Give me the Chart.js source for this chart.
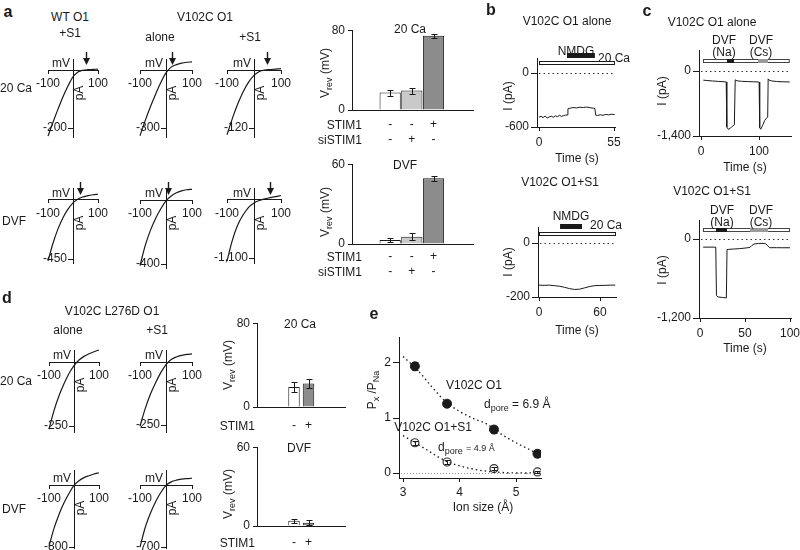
<!DOCTYPE html>
<html><head><meta charset="utf-8">
<script src="https://cdn.jsdelivr.net/npm/chart.js@4.4.0/dist/chart.umd.min.js"></script>
<style>
html,body{margin:0;padding:0;background:#fff;}
#fig{position:relative;width:800px;height:550px;overflow:hidden;font-family:'Liberation Sans',Arial,sans-serif;color:#1a1a1a;}
#fig canvas{position:absolute;}
.t{position:absolute;white-space:nowrap;font-size:12px;line-height:1;}
.t sub{font-size:9px;vertical-align:-3px;line-height:0;}
.t small{font-size:9px;}
.lbl{font-weight:bold;font-size:16px;}
</style></head><body><div id="fig"></div>
<script>
// ---------------- DATA ----------------
// I–V curves (voltage in mV, current in pA)
const ivVoltage = [-100, -80, -60, -40, -20, 0, 20, 40, 60, 80, 100];
const ivXTicks = [-100, 100];
// panel a, 20 Ca row
const aWT_S1_Ca        = [-228, -180, -135, -92, -55, -24, -7, -1, 1, 2, 3];
const aV102C_alone_Ca  = [-340, -262, -190, -125, -65, -15, 15, 28, 36, 40, 42];
const aV102C_S1_Ca     = [-134, -100, -70, -45, -25, -11, -3, 0, 1, 2, 3];
// panel a, DVF row
const aWT_S1_DVF       = [-465, -330, -220, -135, -70, -22, 8, 24, 34, 40, 44];
const aV102C_alone_DVF = [-410, -285, -190, -115, -55, -5, 25, 45, 57, 64, 67];
const aV102C_S1_DVF    = [-1160, -760, -470, -280, -140, -55, -10, 20, 45, 65, 85];
const aIvTicks  = [-200, -300, -120, -450, -400, -1100];
const aIvArrows = [52, 23, 48, 28, 8, 60];   // reversal potentials marked by arrows (mV)
// panel d
const dAlone_Ca  = [-262, -190, -132, -85, -45, -14, 8, 22, 32, 40, 47];
const dS1_Ca     = [-255, -185, -128, -82, -42, -10, 10, 20, 26, 30, 32];
const dAlone_DVF = [-790, -560, -380, -230, -110, -5, 55, 95, 120, 142, 158];
const dS1_DVF    = [-700, -480, -320, -190, -85, -5, 35, 55, 66, 72, 76];
const dIvTicks = [-250, -250, -800, -700];

// Bar charts: reversal potentials (mV)
const aBarPos = [1, 2, 3];
const aSTIM1   = ['-', '-', '+'];
const aSiSTIM1 = ['-', '+', '-'];
const aVrevCa     = [17.5, 19.5, 74.5];
const aVrevCaErr  = [3, 3, 2];
const aVrevDVF    = [3, 5.5, 49.5];
const aVrevDVFErr = [1.2, 2.5, 1.8];
const dBarPos = [1, 2];
const dSTIM1  = ['-', '+'];
const dVrevCa     = [19, 22.5];
const dVrevCaErr  = [4.5, 4];
const dVrevDVF    = [4, 2.5];
const dVrevDVFErr = [1.5, 2];
const vrevTicksCa = [0, 80];
const vrevTicksDVF = [0, 60];

// Current traces (time s, current pA)
const bAloneT = [0, 1.5, 3, 4.5, 6, 7.5, 9, 10.5, 12, 13.5, 15, 16.5, 18, 19.5, 20.6, 21.2, 23, 25, 27.5, 30, 32.5, 35, 37.5, 40, 41, 41.6, 43, 45, 47, 49, 51, 53, 55.5];
const bAloneI = [-490, -482, -495, -478, -500, -488, -480, -492, -476, -485, -470, -482, -474, -468, -466, -398, -390, -384, -388, -380, -384, -378, -386, -392, -396, -468, -472, -464, -470, -460, -466, -458, -462];
const bAloneBath = [0, 55.7], bAloneNMDG = [20.5, 41];
const bS1T = [0, 5, 10, 15, 20, 25, 30, 35, 40, 45, 50, 55, 60, 65, 70, 75];
const bS1I = [-156, -157, -156, -158, -160, -164, -169, -172, -171, -166, -161, -158, -157, -157, -156, -156];
const bS1Bath = [0, 75.7], bS1NMDG = [20.7, 42.3];
const cAloneT = [4, 10, 20, 30, 40, 43.5, 44.5, 47, 50, 53, 56.5, 57.5, 59, 62, 70, 80, 90, 99, 100.2, 101.2, 103, 106, 110, 113, 115, 115.8, 117.5, 122, 130, 140, 153];
const cAloneI = [-197, -205, -215, -224, -232, -236, -1210, -1254, -1240, -1200, -1170, -1160, -190, -212, -222, -228, -232, -236, -238, -1220, -1254, -1180, -1060, -1015, -990, -170, -198, -214, -226, -232, -236];
const cAloneBath = [3.4, 153], cAloneNa = [44.8, 56.9], cAloneCs = [98.3, 115.5];
const cS1T = [3.5, 10, 17.5, 18.3, 20, 25, 29.3, 30, 32, 38, 44, 50, 55.5, 57.5, 60, 65, 70, 73, 75.5, 77.5, 85, 92, 100];
const cS1I = [-124, -123, -124, -860, -880, -888, -895, -160, -157, -152, -146, -138, -128, -100, -76, -68, -66, -72, -105, -132, -132, -133, -133];
const cS1Bath = [3.3, 100], cS1Na = [17.8, 30], cS1Cs = [55.6, 75.6];
const bXTicksAlone = [0, 55], bYTicksAlone = [0, -600];
const bXTicksS1 = [0, 60], bYTicksS1 = [0, -200];
const cXTicksAlone = [0, 100], cYTicksAlone = [0, -1400];
const cXTicksS1 = [0, 50, 100], cYTicksS1 = [0, -1200];

// Panel e: permeability ratios vs ion size (Å)
const eIonSize = [3.21, 3.78, 4.61, 5.38];
const ePAlone = [1.94, 1.26, 0.79, 0.35];
const ePAloneErr = [0.07, 0.03, 0.07, 0.06];
const ePS1 = [0.55, 0.20, 0.08, 0.02];
const ePS1Err = [0.04, 0.03, 0.03, 0.02];
const eFitX = [3.0, 3.25, 3.5, 3.75, 4.0, 4.25, 4.5, 4.75, 5.0, 5.25, 5.44];
const eFitAlone = [2.12, 1.88, 1.58, 1.30, 1.12, 0.99, 0.88, 0.70, 0.55, 0.42, 0.32];
const eFitS1 = [0.68, 0.53, 0.37, 0.22, 0.13, 0.07, 0.03, 0.01, 0, 0, 0];
const eXTicks = [3, 4, 5], eYTicks = [0, 1, 2];

// ---------------- SETUP ----------------
const FONT = "'Liberation Sans', Arial, sans-serif";
const INK = '#1a1a1a';
Chart.defaults.font.family = FONT;
Chart.defaults.font.size = 12;
Chart.defaults.color = INK;
Chart.defaults.plugins.legend.display = false;
Chart.defaults.plugins.tooltip.enabled = false;
const common = {responsive: false, animation: false, devicePixelRatio: 1, events: []};
const fmt = v => Number(v).toLocaleString('en-US');

const deco = {
  id: 'deco',
  afterDatasetsDraw(chart, args, o) {
    const {ctx, chartArea: ca} = chart;
    const xs = chart.scales.x, ys = chart.scales.y;
    ctx.save();
    if (o.zero) {
      const py = Math.round(ys.getPixelForValue(0)) + 0.5;
      ctx.strokeStyle = o.zero.color; ctx.lineWidth = 1; ctx.setLineDash(o.zero.dash);
      ctx.beginPath(); ctx.moveTo(ca.left + 2, py); ctx.lineTo(ca.right, py); ctx.stroke();
      ctx.setLineDash([]);
    }
    if (o.stim) {
      const y0 = ys.getPixelForValue(0);
      o.stim.forEach(s => {
        const xa = xs.getPixelForValue(s.t[0]), xb = xs.getPixelForValue(s.t[1]);
        ctx.fillStyle = s.fill; ctx.fillRect(xa, y0 + s.off, xb - xa, s.h);
        if (s.stroke) { ctx.strokeStyle = s.stroke; ctx.lineWidth = 1; ctx.strokeRect(xa + 0.5, y0 + s.off + 0.5, xb - xa - 1, s.h - 1); }
      });
    }
    if (o.iv) {
      const x0 = xs.getPixelForValue(0), y0 = ys.getPixelForValue(0);
      ctx.fillStyle = INK; ctx.font = '12px ' + FONT;
      ctx.textAlign = 'right'; ctx.textBaseline = 'alphabetic';
      ctx.fillText('mV', x0 - 3, y0 - 3);
      ctx.save(); ctx.translate(x0 + 7, y0 + 23); ctx.rotate(-Math.PI / 2);
      ctx.textAlign = 'center'; ctx.textBaseline = 'middle'; ctx.fillText('pA', 0, 0); ctx.restore();
      if (o.arrow != null) {
        const ax = Math.round(xs.getPixelForValue(o.arrow)) + 0.5, tip = y0 - 5;
        ctx.strokeStyle = INK; ctx.lineWidth = 1.4;
        ctx.beginPath(); ctx.moveTo(ax, tip - 13); ctx.lineTo(ax, tip - 5); ctx.stroke();
        ctx.beginPath(); ctx.moveTo(ax - 3.5, tip - 7); ctx.lineTo(ax + 3.5, tip - 7); ctx.lineTo(ax, tip); ctx.closePath(); ctx.fill();
      }
    }
    ctx.restore();
  }
};
const errbars = {
  id: 'errbars',
  afterDatasetsDraw(chart, args, o) {
    if (!o.sets) return;
    const {ctx} = chart; const ys = chart.scales.y;
    ctx.save(); ctx.strokeStyle = INK; ctx.lineWidth = 1;
    o.sets.forEach(s => {
      const meta = chart.getDatasetMeta(s.ds);
      const vals = chart.data.datasets[s.ds].data;
      meta.data.forEach((el, i) => {
        const v = typeof vals[i] === 'object' ? vals[i].y : vals[i];
        const e = s.err[i];
        const px = Math.round(el.x) + 0.5;
        const yt = Math.round(ys.getPixelForValue(v + e)) + 0.5, yb = Math.round(ys.getPixelForValue(v - e)) + 0.5;
        ctx.beginPath(); ctx.moveTo(px, yt); ctx.lineTo(px, yb);
        ctx.moveTo(px - s.cap, yt); ctx.lineTo(px + s.cap, yt);
        ctx.moveTo(px - s.cap, yb); ctx.lineTo(px + s.cap, yb); ctx.stroke();
      });
    });
    ctx.restore();
  }
};
Chart.register(deco, errbars);

const FIG = document.getElementById('fig');
function addCanvas(l, t, w, h) {
  const c = document.createElement('canvas');
  c.width = Math.round(w); c.height = Math.round(h);
  c.style.left = Math.round(l) + 'px'; c.style.top = Math.round(t) + 'px';
  c.style.width = Math.round(w) + 'px'; c.style.height = Math.round(h) + 'px';
  FIG.appendChild(c); return c;
}
function txt(html, x, y, opt = {}) {
  const d = document.createElement('div');
  d.className = 't' + (opt.cls ? ' ' + opt.cls : '');
  d.innerHTML = html; d.style.left = x + 'px'; d.style.top = y + 'px';
  let tr = opt.align === 'right' ? 'translate(-100%,-50%)' : opt.align === 'left' ? 'translate(0,-50%)' : 'translate(-50%,-50%)';
  if (opt.rot) tr += ' rotate(' + opt.rot + 'deg)';
  d.style.transform = tr;
  if (opt.size) d.style.fontSize = opt.size + 'px';
  FIG.appendChild(d);
}

// ---------------- I–V chart ----------------
function ivChart(o) {
  const PL = 26, PR = 26, PT = 22, PB = 12;
  const cv = addCanvas(o.x0 - PL, o.top - PT, (o.x1 - o.x0) + PL + PR, (o.bot - o.top) + PT + PB);
  const upp = -o.tickVal / (o.tickPx - o.y0);
  const ymax = (o.y0 - o.top) * upp, ymin = -(o.bot - o.y0) * upp;
  new Chart(cv, {
    type: 'line',
    data: {datasets: [{data: ivVoltage.map((v, i) => ({x: v, y: o.I[i]})), borderColor: INK, borderWidth: 1.2,
      pointRadius: 0, cubicInterpolationMode: 'monotone', fill: false, clip: 6}]},
    options: Object.assign({}, common, {
      layout: {padding: {left: PL, right: PR, top: PT, bottom: PB}},
      plugins: {deco: {iv: true, arrow: o.arrow}},
      scales: {
        x: {type: 'linear', min: -100, max: 100, position: {y: 0},
          grid: {drawOnChartArea: false, tickLength: 3, color: INK}, border: {color: INK, width: 1},
          afterBuildTicks: s => { s.ticks = ivXTicks.map(v => ({value: v})); },
          ticks: {padding: 3, autoSkip: false, maxRotation: 0, callback: v => fmt(v)}},
        y: {type: 'linear', min: ymin, max: ymax, position: {x: 0},
          grid: {drawOnChartArea: false, tickLength: 5, color: INK}, border: {color: INK, width: 1},
          afterBuildTicks: s => { s.ticks = [{value: o.tickVal}]; },
          // labels of a crossing axis are anchored on the axis line: an en space keeps them clear of the tick
          ticks: {padding: 1, autoSkip: false, callback: v => fmt(v) + '\u2002'}}
      }
    })
  });
}
// ---------------- bar chart ----------------
function barChart(o) {
  const YW = 34, XH = 40, PT = 10, PR = 6;
  const cv = addCanvas(o.axisX - YW, o.topPx - PT, (o.xEnd - o.axisX) + YW + PR, (o.y0 - o.topPx) + PT + XH);
  const n = o.pos.length;
  const ppu = (o.cLast - o.cFirst) / (o.pos[n - 1] - o.pos[0]);
  const xmin = o.pos[0] - (o.cFirst - o.axisX) / ppu;
  const xmax = o.pos[n - 1] + (o.xEnd - o.cLast) / ppu;
  new Chart(cv, {
    type: 'bar',
    data: {datasets: [{data: o.pos.map((p, i) => ({x: p, y: o.vals[i]})), backgroundColor: o.colors,
      borderColor: INK, borderWidth: 1, barPercentage: o.barPct, categoryPercentage: 1}]},
    options: Object.assign({}, common, {
      layout: {padding: {left: 0, right: PR, top: PT, bottom: 0}},
      plugins: {errbars: {sets: [{ds: 0, err: o.err, cap: 3}]}},
      scales: {
        x: {type: 'linear', min: xmin, max: xmax, grid: {display: false, drawTicks: false}, border: {color: INK},
          afterBuildTicks: s => { s.ticks = o.pos.map(v => ({value: v})); },
          afterFit: s => { s.height = XH; },
          ticks: {autoSkip: false, maxRotation: 0, padding: o.tickPad, font: {size: 12, lineHeight: 1.25},
            callback: (v, i) => o.rows.map(r => r[i])}},
        y: {type: 'linear', min: 0, max: o.yticks[o.yticks.length - 1], grid: {drawOnChartArea: false, tickLength: 4, color: INK},
          border: {color: INK},
          afterBuildTicks: s => { s.ticks = o.yticks.map(v => ({value: v})); },
          afterFit: s => { s.width = YW; },
          ticks: {padding: 3}}
      }
    })
  });
}
// ---------------- trace chart ----------------
function traceChart(o) {
  const YW = 46, XH = 26, PT = 24, PR = 20;
  const cv = addCanvas(o.axisX - YW, o.topPx - PT, (o.xEnd - o.axisX) + YW + PR, (o.botPx - o.topPx) + PT + XH);
  const xppu = (o.xtp[1] - o.xtp[0]) / (o.xt[1] - o.xt[0]);
  const xmin = o.xt[0] - (o.xtp[0] - o.axisX) / xppu, xmax = o.xt[0] + (o.xEnd - o.xtp[0]) / xppu;
  const yupp = (o.yt[0] - o.yt[1]) / (o.ytp[1] - o.ytp[0]);
  const ymax = o.yt[0] + (o.ytp[0] - o.topPx) * yupp, ymin = o.yt[0] - (o.botPx - o.ytp[0]) * yupp;
  new Chart(cv, {
    type: 'line',
    data: {datasets: [{data: o.t.map((t, i) => ({x: t, y: o.I[i]})), borderColor: INK, borderWidth: 1,
      pointRadius: 0, tension: 0, fill: false}]},
    options: Object.assign({}, common, {
      layout: {padding: {left: 0, right: PR, top: PT, bottom: 0}},
      plugins: {deco: {zero: {color: '#333', dash: [1.5, 3]}, stim: o.stim}},
      scales: {
        x: {type: 'linear', min: xmin, max: xmax, grid: {drawOnChartArea: false, tickLength: 4, color: INK}, border: {color: INK},
          afterBuildTicks: s => { s.ticks = o.xticks.map(v => ({value: v})); },
          afterFit: s => { s.height = XH; },
          ticks: {autoSkip: false, maxRotation: 0, padding: 4, callback: v => fmt(v)}},
        y: {type: 'linear', min: ymin, max: ymax, grid: {drawOnChartArea: false, tickLength: 6, color: INK}, border: {color: INK},
          afterBuildTicks: s => { s.ticks = o.yticks.map(v => ({value: v})); },
          afterFit: s => { s.width = YW; },
          ticks: {autoSkip: false, padding: 2, callback: v => fmt(v)}}
      }
    })
  });
}

// ---------------- PANEL a ----------------
const aIV = [aWT_S1_Ca, aV102C_alone_Ca, aV102C_S1_Ca, aWT_S1_DVF, aV102C_alone_DVF, aV102C_S1_DVF];
const aIvBox = [
  {x0: 48, x1: 98, y0: 70, tickPx: 128, top: 59, bot: 137},
  {x0: 140, x1: 192, y0: 70, tickPx: 128, top: 59, bot: 137},
  {x0: 227, x1: 281, y0: 70, tickPx: 128, top: 59, bot: 137},
  {x0: 48, x1: 98, y0: 200, tickPx: 259, top: 188, bot: 263},
  {x0: 140, x1: 192, y0: 200, tickPx: 264, top: 188, bot: 268},
  {x0: 227, x1: 281, y0: 200, tickPx: 258, top: 188, bot: 263}
];
aIV.forEach((I, k) => ivChart(Object.assign({I: I, tickVal: aIvTicks[k], arrow: aIvArrows[k]}, aIvBox[k])));

barChart({axisX: 352, xEnd: 473, y0: 110, topPx: 30, pos: aBarPos, cFirst: 379, cLast: 444, vals: aVrevCa, err: aVrevCaErr,
  colors: ['#ffffff', '#c9c9c9', '#8c8c8c'], barPct: 0.98, yticks: vrevTicksCa, rows: [aSTIM1, aSiSTIM1], tickPad: 7});
barChart({axisX: 352, xEnd: 473, y0: 244, topPx: 164, pos: aBarPos, cFirst: 379, cLast: 444, vals: aVrevDVF, err: aVrevDVFErr,
  colors: ['#ffffff', '#c9c9c9', '#8c8c8c'], barPct: 0.98, yticks: vrevTicksDVF, rows: [aSTIM1, aSiSTIM1], tickPad: 5});

// ---------------- PANEL b ----------------
traceChart({axisX: 537, xEnd: 615, topPx: 58, botPx: 127, xt: bXTicksAlone, xtp: [539, 614], yt: bYTicksAlone, ytp: [73, 127],
  xticks: bXTicksAlone, yticks: bYTicksAlone, t: bAloneT, I: bAloneI,
  stim: [{t: bAloneBath, off: -12, h: 4, fill: '#fff', stroke: INK}, {t: bAloneNMDG, off: -20, h: 5, fill: INK}]});
traceChart({axisX: 538, xEnd: 616, topPx: 227, botPx: 297, xt: bXTicksS1, xtp: [539, 600], yt: bYTicksS1, ytp: [243, 297],
  xticks: bXTicksS1, yticks: bYTicksS1, t: bS1T, I: bS1I,
  stim: [{t: bS1Bath, off: -11, h: 4, fill: '#fff', stroke: INK}, {t: bS1NMDG, off: -19, h: 5, fill: INK}]});

// ---------------- PANEL c ----------------
traceChart({axisX: 699, xEnd: 791, topPx: 50, botPx: 136, xt: [0, 100], xtp: [701, 759], yt: cYTicksAlone, ytp: [71, 136],
  xticks: cXTicksAlone, yticks: cYTicksAlone, t: cAloneT, I: cAloneI,
  stim: [{t: cAloneBath, off: -12, h: 4, fill: '#fff', stroke: '#444'}, {t: cAloneNa, off: -12, h: 4, fill: INK},
         {t: cAloneCs, off: -12, h: 4, fill: '#9a9a9a'}]});
traceChart({axisX: 699, xEnd: 791, topPx: 220, botPx: 318, xt: [0, 100], xtp: [700, 790], yt: cYTicksS1, ytp: [239, 318],
  xticks: cXTicksS1, yticks: cYTicksS1, t: cS1T, I: cS1I,
  stim: [{t: cS1Bath, off: -11, h: 4, fill: '#fff', stroke: '#444'}, {t: cS1Na, off: -11, h: 4, fill: INK},
         {t: cS1Cs, off: -11, h: 4, fill: '#9a9a9a'}]});

// ---------------- PANEL d ----------------
const dIV = [dAlone_Ca, dS1_Ca, dAlone_DVF, dS1_DVF];
const dIvBox = [
  {x0: 49, x1: 99, y0: 362, tickPx: 426, top: 350, bot: 432},
  {x0: 140, x1: 192, y0: 362, tickPx: 425, top: 350, bot: 432},
  {x0: 49, x1: 99, y0: 485, tickPx: 547, top: 470, bot: 548},
  {x0: 140, x1: 192, y0: 485, tickPx: 547, top: 470, bot: 548}
];
dIV.forEach((I, k) => ivChart(Object.assign({I: I, tickVal: dIvTicks[k], arrow: null}, dIvBox[k])));

barChart({axisX: 257, xEnd: 345, y0: 407, topPx: 323, pos: dBarPos, cFirst: 287, cLast: 316, vals: dVrevCa, err: dVrevCaErr,
  colors: ['#ffffff', '#8c8c8c'], barPct: 0.79, yticks: vrevTicksCa, rows: [dSTIM1], tickPad: 11});
barChart({axisX: 257, xEnd: 345, y0: 526, topPx: 447, pos: dBarPos, cFirst: 287, cLast: 316, vals: dVrevDVF, err: dVrevDVFErr,
  colors: ['#ffffff', '#8c8c8c'], barPct: 0.79, yticks: vrevTicksDVF, rows: [dSTIM1], tickPad: 9});

// ---------------- PANEL e ----------------
(function () {
  const axisX = 399, xEnd = 541, topPx = 337, botPx = 478;
  const YW = 30, XH = 26, PT = 10, PR = 10;
  const cv = addCanvas(axisX - YW, topPx - PT, (xEnd - axisX) + YW + PR, (botPx - topPx) + PT + XH);
  const xppu = (516 - 403) / 2;
  const xmin = 3 - (403 - axisX) / xppu, xmax = 3 + (xEnd - 403) / xppu;
  const yppu = (473 - 363) / 2;
  const ymin = -(botPx - 473) / yppu, ymax = (473 - topPx) / yppu;
  new Chart(cv, {
    type: 'scatter',
    data: {datasets: [
      {data: eFitX.map((x, i) => ({x: x, y: eFitAlone[i]})), showLine: true, borderColor: INK, borderWidth: 1.3,
        borderDash: [1.5, 3], pointRadius: 0, cubicInterpolationMode: 'monotone'},
      {data: eFitX.map((x, i) => ({x: x, y: eFitS1[i]})), showLine: true, borderColor: INK, borderWidth: 1.3,
        borderDash: [1.5, 3], pointRadius: 0, cubicInterpolationMode: 'monotone'},
      {data: eIonSize.map((x, i) => ({x: x, y: ePAlone[i]})), pointRadius: 4.5, pointBackgroundColor: INK, pointBorderColor: INK},
      {data: eIonSize.map((x, i) => ({x: x, y: ePS1[i]})), pointRadius: 4, pointBackgroundColor: '#fff', pointBorderColor: '#333', pointBorderWidth: 1.2}
    ]},
    options: Object.assign({}, common, {
      layout: {padding: {left: 0, right: PR, top: PT, bottom: 0}},
      plugins: {deco: {zero: {color: '#999', dash: [1, 2]}}, errbars: {sets: [{ds: 2, err: ePAloneErr, cap: 3}, {ds: 3, err: ePS1Err, cap: 3}]}},
      scales: {
        x: {type: 'linear', min: xmin, max: xmax, grid: {drawOnChartArea: false, tickLength: 4, color: INK}, border: {color: INK},
          afterBuildTicks: s => { s.ticks = eXTicks.map(v => ({value: v})); },
          afterFit: s => { s.height = XH; },
          ticks: {autoSkip: false, maxRotation: 0, padding: 3}},
        y: {type: 'linear', min: ymin, max: ymax, grid: {drawOnChartArea: false, tickLength: 6, color: INK}, border: {color: INK},
          afterBuildTicks: s => { s.ticks = eYTicks.map(v => ({value: v})); },
          afterFit: s => { s.width = YW; },
          ticks: {autoSkip: false, padding: 2}}
      }
    })
  });
})();

// ---------------- TEXT ----------------
txt('a', 8, 12, {cls: 'lbl'});
txt('WT O1', 70, 17); txt('+S1', 70, 33);
txt('V102C O1', 205, 17); txt('alone', 160, 37); txt('+S1', 250, 37);
txt('20 Ca', 0, 88, {align: 'left'}); txt('DVF', 2, 221, {align: 'left'});
txt('V<sub>rev</sub> (mV)', 325, 73, {rot: -90}); txt('V<sub>rev</sub> (mV)', 325, 212, {rot: -90});
txt('20 Ca', 410, 29); txt('DVF', 405, 165);
txt('STIM1', 362, 125, {align: 'right'}); txt('siSTIM1', 362, 140, {align: 'right'});
txt('STIM1', 362, 257, {align: 'right'}); txt('siSTIM1', 362, 272, {align: 'right'});

txt('b', 491, 10, {cls: 'lbl'});
txt('V102C O1 alone', 567, 21);
txt('NMDG', 576, 51); txt('20 Ca', 614, 58);
txt('I (pA)', 508, 96, {rot: -90}); txt('Time (s)', 577, 158);
txt('V102C O1+S1', 560, 182);
txt('NMDG', 571, 216); txt('20 Ca', 606, 225);
txt('I (pA)', 508, 262, {rot: -90}); txt('Time (s)', 577, 330);

txt('c', 647, 11, {cls: 'lbl'});
txt('V102C O1 alone', 712, 22);
txt('DVF', 724, 40); txt('(Na)', 724, 52); txt('DVF', 761, 40); txt('(Cs)', 761, 52);
txt('I (pA)', 662, 91, {rot: -90}); txt('Time (s)', 745, 167);
txt('V102C O1+S1', 712, 191);
txt('DVF', 722, 210); txt('(Na)', 722, 222); txt('DVF', 761, 210); txt('(Cs)', 761, 222);
txt('I (pA)', 662, 270, {rot: -90}); txt('Time (s)', 745, 348);

txt('d', 7, 298, {cls: 'lbl'});
txt('V102C L276D O1', 112, 311); txt('alone', 68, 330); txt('+S1', 157, 330);
txt('20 Ca', 0, 381, {align: 'left'}); txt('DVF', 2, 509, {align: 'left'});
txt('V<sub>rev</sub> (mV)', 228, 365, {rot: -90}); txt('V<sub>rev</sub> (mV)', 228, 494, {rot: -90});
txt('20 Ca', 300, 324); txt('DVF', 299, 448);
txt('STIM1', 255, 426, {align: 'right'}); txt('STIM1', 255, 543, {align: 'right'});

txt('e', 374, 314, {cls: 'lbl'});
txt('P<sub>x</sub> /P<sub>Na</sub>', 372, 390, {rot: -90});
txt('Ion size (Å)', 483, 507);
txt('V102C O1', 474, 385);
txt('d<sub>pore</sub> = 6.9 Å', 484, 404, {align: 'left'});
txt('V102C O1+S1', 433, 427);
txt('d<sub>pore</sub> <small>= 4.9 Å</small>', 438, 447, {align: 'left'});
</script></body></html>
